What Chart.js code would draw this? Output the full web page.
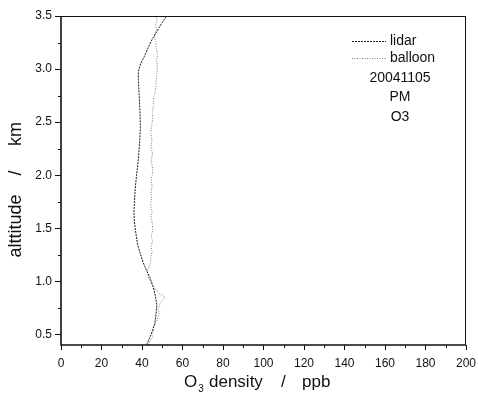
<!DOCTYPE html>
<html>
<head>
<meta charset="utf-8">
<script src="https://cdn.jsdelivr.net/npm/chart.js@4"></script>
<style>
  html, body { margin: 0; padding: 0; background: #fff; }
  #wrap { width: 478px; height: 394px; }
</style>
</head>
<body>
<div id="wrap"><canvas id="o3Chart" width="478" height="394"></canvas></div>
<script>
const lidarAlt = [0.40, 0.50, 0.60, 0.70, 0.78, 0.87, 0.95, 1.03, 1.10, 1.18, 1.26, 1.35, 1.45, 1.55, 1.65, 1.76, 1.86, 2.00, 2.15, 2.30, 2.45, 2.60, 2.75, 2.90, 2.98, 3.05, 3.12, 3.20, 3.28, 3.36, 3.44, 3.50];
const lidarO3 = [42.3, 44.5, 46.3, 47.0, 47.3, 46.5, 45.5, 44.0, 42.3, 40.5, 39.2, 37.8, 37.0, 36.3, 36.0, 36.3, 36.6, 37.3, 38.2, 38.8, 39.2, 39.0, 38.6, 38.2, 38.2, 39.3, 41.2, 43.0, 45.0, 47.5, 50.0, 52.2];

const balloonAlt = [0.40, 0.44, 0.48, 0.50, 0.54, 0.57, 0.61, 0.66, 0.70, 0.74, 0.79, 0.82, 0.85, 0.88, 0.92, 0.95, 1.00, 1.05, 1.10, 1.14, 1.18, 1.23, 1.28, 1.33, 1.38, 1.43, 1.48, 1.55, 1.60, 1.66, 1.72, 1.78, 1.83, 1.90, 1.96, 2.02, 2.08, 2.14, 2.20, 2.27, 2.33, 2.40, 2.47, 2.54, 2.60, 2.66, 2.71, 2.77, 2.83, 2.90, 2.96, 3.02, 3.08, 3.14, 3.20, 3.26, 3.31, 3.34, 3.38, 3.42, 3.46, 3.50];
const balloonO3 = [43.0, 44.0, 45.5, 44.8, 46.0, 45.5, 47.0, 47.9, 48.5, 48.0, 48.9, 50.0, 51.4, 49.0, 47.0, 45.5, 44.0, 43.0, 42.6, 43.5, 44.3, 44.3, 45.0, 44.5, 45.2, 44.6, 45.3, 45.1, 44.4, 45.0, 44.2, 44.8, 44.4, 45.0, 44.5, 45.3, 45.1, 44.6, 45.2, 44.5, 44.9, 44.3, 44.8, 45.3, 45.0, 45.8, 45.6, 46.3, 46.8, 47.0, 47.4, 47.6, 47.2, 47.8, 47.0, 46.8, 46.0, 46.4, 47.2, 46.5, 47.5, 47.0];

const xTicks = [0, 20, 40, 60, 80, 100, 120, 140, 160, 180, 200];
const yTicks = [0.5, 1.0, 1.5, 2.0, 2.5, 3.0, 3.5];
const infoLines = ["20041105", "PM", "O3"];

const toPoints = (alt, o3) => alt.map((a, i) => ({ x: o3[i], y: a }));
const FONT = "'Liberation Sans', Arial, sans-serif";

// frame, minor ticks, titles and the legend block
const decorations = {
  id: "decorations",
  afterDraw(chart) {
    const { ctx, chartArea: a, scales: { x, y } } = chart;
    ctx.save();
    ctx.strokeStyle = "#111";
    ctx.lineWidth = 1;
    ctx.beginPath();
    ctx.moveTo(a.left, a.top + 0.5); ctx.lineTo(a.right, a.top + 0.5);
    ctx.moveTo(a.right - 0.5, a.top); ctx.lineTo(a.right - 0.5, a.bottom);
    // minor ticks
    for (let v = 10; v < 200; v += 20) {
      const px = Math.round(x.getPixelForValue(v)) + 0.5;
      ctx.moveTo(px, a.bottom); ctx.lineTo(px, a.bottom + 3);
    }
    for (let v = 0.75; v < 3.5; v += 0.5) {
      const py = Math.round(y.getPixelForValue(v)) + 0.5;
      ctx.moveTo(a.left, py); ctx.lineTo(a.left - 3, py);
    }
    ctx.stroke();

    ctx.lineWidth = 1.6;
    ctx.beginPath();
    ctx.moveTo(a.left, a.top); ctx.lineTo(a.left, a.bottom);
    ctx.lineTo(a.right, a.bottom);
    ctx.stroke();

    // y title, spaced out like the original
    ctx.fillStyle = "#111";
    ctx.textBaseline = "middle";
    ctx.textAlign = "center";
    ctx.font = "18px " + FONT;
    ctx.save();
    ctx.translate(16, 0);
    ctx.rotate(-Math.PI / 2);
    ctx.fillText("alttitude", -226, 0);
    ctx.fillText("/", -173, 0);
    ctx.fillText("km", -134, 0);
    ctx.restore();

    // x title with subscript
    ctx.textAlign = "left";
    ctx.font = "17px " + FONT;
    ctx.fillText("O", 184, 382);
    const w0 = ctx.measureText("O").width;
    ctx.fillText("density", 209, 382);
    ctx.fillText("/", 281, 382);
    ctx.fillText("ppb", 302, 382);
    ctx.font = "10px " + FONT;
    ctx.fillText("3", 184 + w0 + 1, 389);

    // legend
    const ds = chart.data.datasets;
    ctx.font = "14px " + FONT;
    [41, 58].forEach((ly, i) => {
      ctx.strokeStyle = ds[i].borderColor;
      ctx.lineWidth = 1;
      ctx.setLineDash(ds[i].borderDash);
      ctx.beginPath();
      ctx.moveTo(352, ly + 0.5); ctx.lineTo(386, ly + 0.5);
      ctx.stroke();
      ctx.setLineDash([]);
      ctx.fillText(ds[i].label, 390, ly);
    });
    ctx.textAlign = "center";
    infoLines.forEach((t, i) => ctx.fillText(t, 400, 78 + i * 19.5));
    ctx.restore();
  }
};

new Chart(document.getElementById("o3Chart"), {
  type: "scatter",
  data: {
    datasets: [
      {
        label: "lidar",
        data: toPoints(lidarAlt, lidarO3),
        showLine: true,
        borderColor: "#1a1a1a",
        borderWidth: 1,
        borderDash: [2, 1],
        pointRadius: 0,
        tension: 0
      },
      {
        label: "balloon",
        data: toPoints(balloonAlt, balloonO3),
        showLine: true,
        borderColor: "#7a7a7a",
        borderWidth: 1,
        borderDash: [1, 1.5],
        pointRadius: 0,
        tension: 0
      }
    ]
  },
  options: {
    responsive: false,
    animation: false,
    layout: { padding: { top: 16, right: 12, left: 0, bottom: 0 } },
    plugins: { legend: { display: false }, tooltip: { enabled: false } },
    scales: {
      x: {
        type: "linear",
        min: 0,
        max: 200,
        afterBuildTicks: s => { s.ticks = xTicks.map(v => ({ value: v })); },
        afterFit: s => { s.height = 49; s.paddingRight = 0; s.paddingLeft = 0; },
        border: { display: false },
        grid: { drawOnChartArea: false, color: "#111", tickLength: 5 },
        ticks: { color: "#111", padding: 6, font: { family: FONT, size: 12 } }
      },
      y: {
        type: "linear",
        min: 0.4,
        max: 3.5,
        afterBuildTicks: s => { s.ticks = yTicks.map(v => ({ value: v })); },
        afterFit: s => { s.width = 61; },
        border: { display: false },
        grid: { drawOnChartArea: false, color: "#111", tickLength: 6 },
        ticks: {
          color: "#111",
          padding: 3,
          font: { family: FONT, size: 12 },
          callback: v => v.toFixed(1)
        }
      }
    }
  },
  plugins: [decorations]
});
</script>
</body>
</html>
